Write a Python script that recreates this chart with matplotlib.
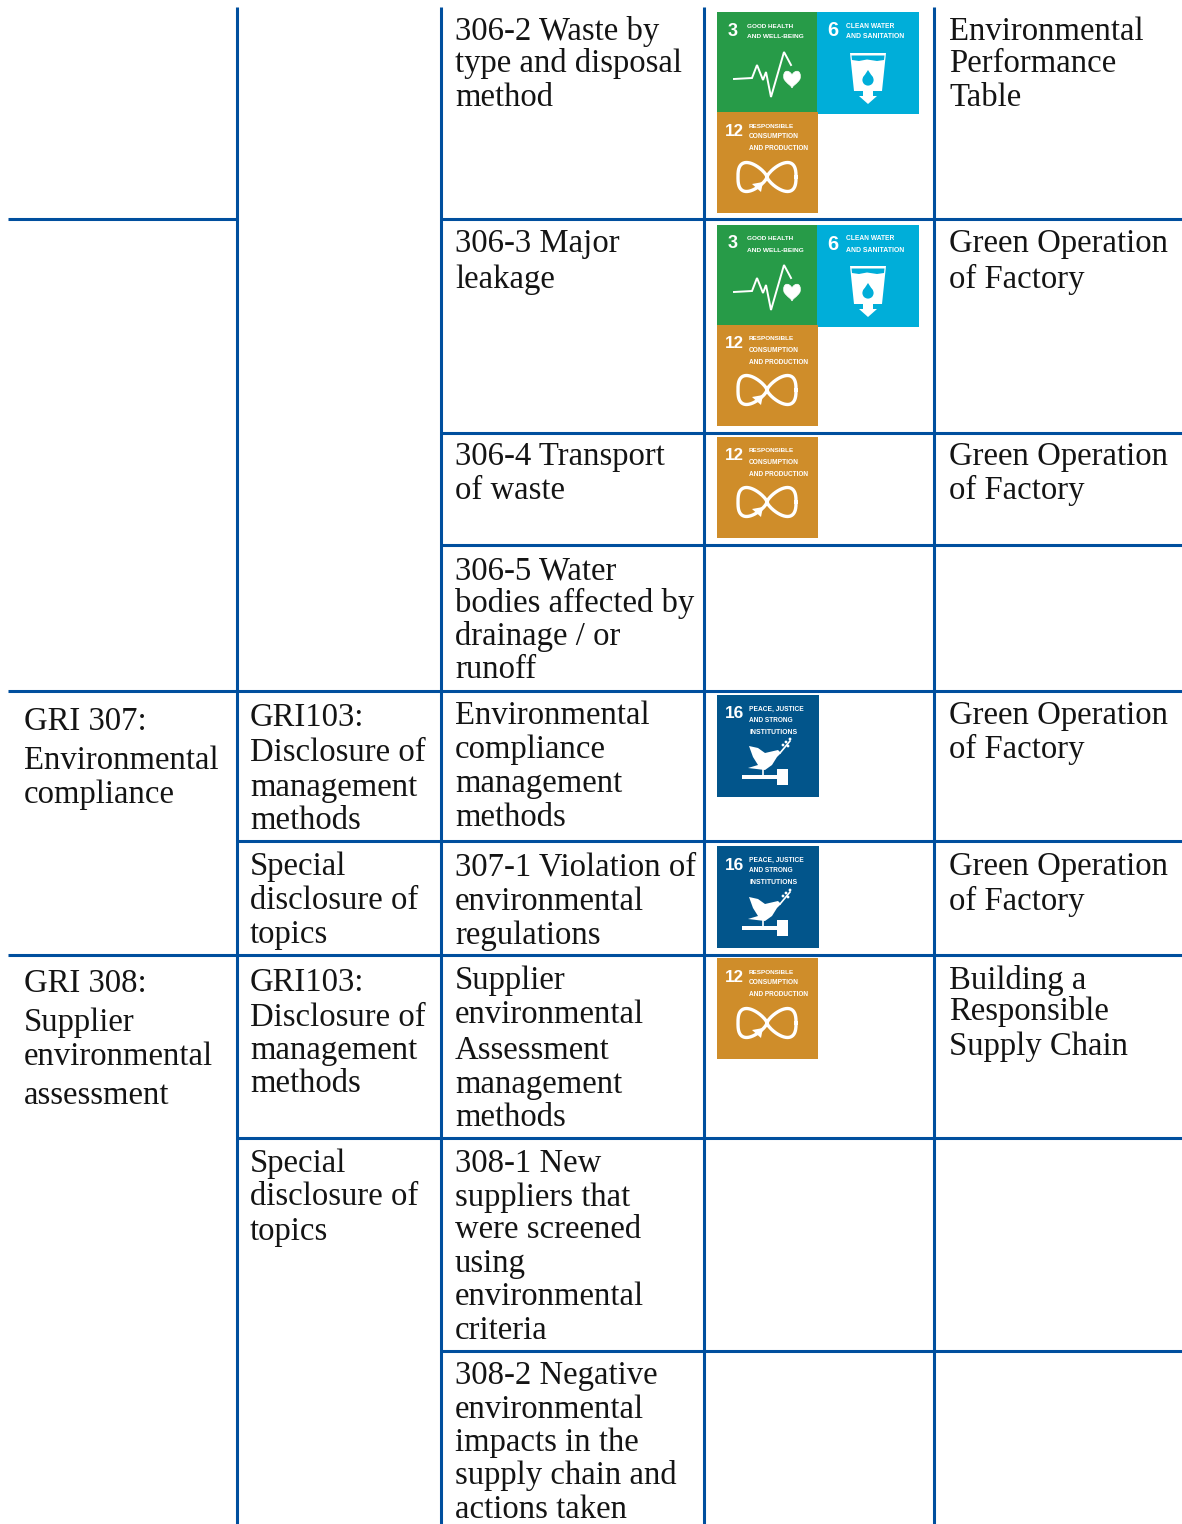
import numpy as np
import matplotlib
matplotlib.use("Agg")
import matplotlib.pyplot as plt
from matplotlib.patches import Rectangle, Polygon, Circle, PathPatch
from matplotlib.path import Path

W, H = 1182, 1524
RULE = "#004F9E"
INK = "#141414"
BODY_FONT = ["Liberation Serif", "DejaVu Serif"]
BODY_SIZE = 23.6
TILE_FONT = ["Liberation Sans Narrow", "Liberation Sans", "DejaVu Sans"]

# x, baseline, text
col1 = [(24, 730, "GRI 307:"), (24, 769, "Environmental"), (24, 803, "compliance"),
        (24, 992, "GRI 308:"), (24, 1031, "Supplier"), (24, 1065, "environmental"), (24, 1104, "assessment")]
col2 = [(250, 726, "GRI103:"), (250, 761, "Disclosure of"), (250, 796, "management"), (250, 829, "methods"),
        (250, 875, "Special"), (250, 909, "disclosure of"), (250, 943, "topics"),
        (250, 991, "GRI103:"), (250, 1026, "Disclosure of"), (250, 1059, "management"), (250, 1092, "methods"),
        (250, 1172, "Special"), (250, 1205, "disclosure of"), (250, 1240, "topics")]
col3 = [(455, 40, "306-2 Waste by"), (455, 72, "type and disposal"), (455, 106, "method"),
        (455, 252, "306-3 Major"), (455, 288, "leakage"),
        (455, 465, "306-4 Transport"), (455, 499, "of waste"),
        (455, 579, "306-5 Water"), (455, 612, "bodies affected by"), (455, 645, "drainage / or"), (455, 678, "runoff"),
        (455, 724, "Environmental"), (455, 758, "compliance"), (455, 792, "management"), (455, 826, "methods"),
        (455, 875, "307-1 Violation of"), (455, 910, "environmental"), (455, 944, "regulations"),
        (455, 989, "Supplier"), (455, 1023, "environmental"), (455, 1059, "Assessment"), (455, 1093, "management"), (455, 1126, "methods"),
        (455, 1172, "308-1 New"), (455, 1206, "suppliers that"), (455, 1238, "were screened"), (455, 1272, "using"),
        (455, 1305, "environmental"), (455, 1339, "criteria"),
        (455, 1384, "308-2 Negative"), (455, 1418, "environmental"), (455, 1451, "impacts in the"),
        (455, 1484, "supply chain and"), (455, 1518, "actions taken")]
col5 = [(949, 40, "Environmental"), (949, 72, "Performance"), (949, 106, "Table"),
        (949, 252, "Green Operation"), (949, 288, "of Factory"),
        (949, 465, "Green Operation"), (949, 499, "of Factory"),
        (949, 724, "Green Operation"), (949, 758, "of Factory"),
        (949, 875, "Green Operation"), (949, 910, "of Factory"),
        (949, 989, "Building a"), (949, 1020, "Responsible"), (949, 1055, "Supply Chain")]

h_rules = [(219, 8, 237), (219, 441, 1182), (433, 441, 1182), (545, 441, 1182), (691, 8, 1182),
           (841, 237, 1182), (955, 8, 1182), (1138, 237, 1182), (1351, 441, 1182)]
v_rules = [237, 441, 704, 934]

tiles = [(3, 717, 12), (6, 817, 12), (12, 717, 112),
         (3, 717, 225), (6, 817, 225), (12, 717, 325),
         (12, 717, 437), (16, 717, 695), (16, 717, 846), (12, 717, 958)]
tile_colors = {3: "#279B48", 6: "#00AED9", 12: "#CF8D2A", 16: "#02558B"}
tile_size = {3: 100.5, 6: 102, 12: 101, 16: 102}
tile_text = {3: ["GOOD HEALTH", "AND WELL-BEING"],
             6: ["CLEAN WATER", "AND SANITATION"],
             12: ["RESPONSIBLE", "CONSUMPTION", "AND PRODUCTION"],
             16: ["PEACE, JUSTICE", "AND STRONG", "INSTITUTIONS"]}
# per goal: numeral x, y centre, width / label x, widths, y centres
tile_num = {3: (11, 19, 10), 6: (10, 19, 11), 12: (8, 19, 19), 16: (8, 19, 19)}
tile_lab = {3: (30, [47, 57], [14, 25]),
            6: (29, [48, 58], [14, 25]),
            12: (32, [46, 50, 60], [14, 25, 37]),
            16: (32, [55, 44, 48], [14, 25, 37])}

fig = plt.figure(figsize=(W / 100, H / 100), dpi=100, facecolor="white")
ax = fig.add_axes([0, 0, 1, 1])
ax.set_xlim(0, W)
ax.set_ylim(H, 0)
ax.axis("off")

for x in v_rules:
    ax.plot([x, x], [7, H], color=RULE, lw=2.2, solid_capstyle="butt", zorder=3)
for y, a, b in h_rules:
    ax.plot([a, b], [y, y], color=RULE, lw=2.2, solid_capstyle="butt", zorder=3)

for col in (col1, col2, col3, col5):
    for x, y, s in col:
        ax.text(x, y, s, family=BODY_FONT, fontsize=BODY_SIZE, color=INK, va="baseline", ha="left")

renderer = fig.canvas.get_renderer()


def fit(x, y, s, width):
    t = ax.text(x, y, s, fontsize=8, family=TILE_FONT, color="white", weight="bold",
                va="center", ha="left", zorder=5)
    t.set_fontsize(8 * width / t.get_window_extent(renderer).width)
    return t


def icon3(ox, oy, c):
    pts = [(17, 67), (35, 66), (40, 53), (46, 68), (49, 60), (54, 85), (67, 40), (74, 53)]
    xs, ys = zip(*pts)
    ax.plot(np.array(xs) + ox, np.array(ys) + oy, color="white", lw=1.4, zorder=5, solid_joinstyle="miter")
    heart = Path([(75, 63), (72, 57), (65, 58), (67, 67), (70, 72), (75, 74), (75, 76),
                  (75, 74), (80, 72), (83, 67), (85, 58), (78, 57), (75, 63)],
                 [Path.MOVETO] + [Path.CURVE4] * 12)
    ax.add_patch(PathPatch(heart.transformed(matplotlib.transforms.Affine2D().translate(ox, oy)),
                           fc="white", ec="white", lw=0.5, zorder=5))


def icon6(ox, oy, c):
    glass = [(33, 41), (69, 41), (65, 79), (56, 79), (56, 84), (60, 84), (51, 92), (42, 84), (46, 84), (46, 79), (37, 79)]
    ax.add_patch(Polygon([(x + ox, y + oy) for x, y in glass], fc="white", ec="none", zorder=5))
    band = [(34.5, 43.5), (67.5, 43.5), (67, 48), (60, 49), (50, 47.5), (42, 49), (35, 48)]
    ax.add_patch(Polygon([(x + ox, y + oy) for x, y in band], fc=c, ec="none", zorder=6))
    ax.add_patch(Circle((51 + ox, 68 + oy), 5.6, fc=c, ec="none", zorder=6))
    ax.add_patch(Polygon([(45.8 + ox, 66 + oy), (56.2 + ox, 66 + oy), (51 + ox, 58 + oy)], fc=c, ec="none", zorder=6))


def icon12(ox, oy, c):
    t = np.linspace(0, 2 * np.pi, 160)
    s2 = np.sin(2 * t)
    ax.plot(ox + 50 + 29 * np.cos(t), oy + 65 + 14.5 * np.sign(s2) * np.abs(s2) ** 0.7,
            color="white", lw=2.4, zorder=5)
    ax.add_patch(Polygon([(35 + ox, 72 + oy), (46 + ox, 70 + oy), (44 + ox, 80 + oy)], fc="white", ec="none", zorder=5))


def icon16(ox, oy, c):
    dove = [(32, 51), (41, 53), (48, 58), (61, 55), (64, 58), (60, 62), (55, 70), (48, 75), (31, 73), (41, 70), (36, 62)]
    ax.add_patch(Polygon([(x + ox, y + oy) for x, y in dove], fc="white", ec="none", zorder=5))
    ax.plot([46 + ox, 46 + ox], [74 + oy, 81 + oy], color="white", lw=1.2, zorder=5)
    ax.add_patch(Rectangle((25 + ox, 80 + oy), 37, 3.5, fc="white", ec="none", zorder=5))
    ax.add_patch(Rectangle((60 + ox, 74 + oy), 11, 16, fc="white", ec="none", zorder=5))
    ax.plot([63 + ox, 73 + ox], [58 + oy, 46 + oy], color="white", lw=1.2, zorder=5)
    for lx, ly in [(66, 50), (69, 47), (71, 51), (73, 44)]:
        ax.add_patch(Circle((lx + ox, ly + oy), 1.4, fc="white", ec="none", zorder=5))


icons = {3: icon3, 6: icon6, 12: icon12, 16: icon16}

for goal, x, y in tiles:
    c = tile_colors[goal]
    sz = tile_size[goal]
    ax.add_patch(Rectangle((x, y), sz, sz, fc=c, ec="none", zorder=2))
    nx, ny, nw = tile_num[goal]
    fit(x + nx, y + ny, str(goal), nw)
    lx, widths, ys = tile_lab[goal]
    for s, w, ly in zip(tile_text[goal], widths, ys):
        fit(x + lx, y + ly, s, w)
    icons[goal](x, y, c)

fig.savefig("out.png", dpi=100, facecolor="white")
